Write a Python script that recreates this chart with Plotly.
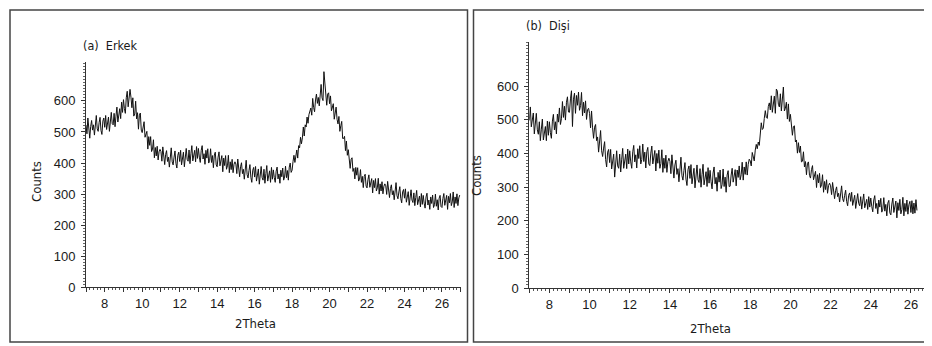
import plotly.graph_objects as go

# ---- data ----
theta_start = 7.0
theta_step = 0.05

erkek_counts = [
    522, 494, 545, 505, 480, 518, 537, 506, 523, 490, 533, 553, 510, 502, 530, 547, 505, 492, 535, 545,
    515, 553, 508, 535, 548, 502, 547, 563, 527, 523, 560, 517, 551, 580, 532, 550, 575, 543, 596, 563,
    604, 575, 560, 610, 631, 581, 601, 637, 612, 578, 610, 551, 558, 599, 542, 562, 509, 554, 561, 506,
    498, 522, 533, 483, 495, 502, 445, 485, 457, 485, 437, 445, 475, 417, 450, 423, 454, 410, 436, 444,
    437, 406, 452, 416, 395, 427, 440, 405, 419, 387, 433, 449, 404, 394, 419, 439, 399, 384, 425, 435,
    405, 441, 394, 421, 435, 388, 430, 447, 412, 406, 442, 398, 430, 456, 407, 420, 441, 404, 453, 415,
    447, 419, 402, 441, 456, 413, 430, 396, 441, 416, 446, 400, 409, 446, 402, 424, 385, 426, 435, 394,
    388, 419, 436, 391, 410, 424, 372, 416, 392, 424, 380, 391, 425, 369, 404, 379, 412, 369, 396, 404,
    397, 366, 413, 377, 356, 388, 401, 366, 380, 348, 393, 409, 363, 352, 376, 395, 354, 338, 377, 386,
    355, 389, 342, 368, 381, 332, 374, 389, 353, 345, 380, 335, 366, 392, 342, 355, 375, 338, 386, 348,
    378, 353, 338, 374, 387, 349, 365, 335, 377, 356, 384, 345, 355, 390, 353, 376, 345, 387, 400, 370,
    377, 405, 425, 402, 424, 442, 416, 456, 449, 483, 462, 481, 516, 487, 523, 516, 548, 528, 556, 571,
    577, 554, 608, 579, 565, 603, 622, 592, 611, 584, 633, 653, 610, 601, 694, 646, 605, 586, 622, 626,
    591, 616, 568, 587, 591, 541, 573, 580, 541, 526, 550, 502, 520, 534, 479, 479, 486, 440, 471, 425,
    443, 408, 383, 412, 417, 373, 383, 349, 386, 361, 385, 342, 348, 379, 338, 357, 321, 357, 364, 326,
    320, 347, 362, 322, 339, 350, 304, 344, 321, 350, 310, 320, 351, 300, 333, 310, 340, 301, 325, 333,
    327, 299, 341, 308, 289, 318, 330, 298, 311, 282, 322, 337, 295, 285, 307, 324, 286, 272, 307, 315,
    287, 317, 274, 298, 308, 264, 301, 314, 281, 273, 304, 263, 289, 312, 266, 276, 294, 259, 302, 267,
    296, 271, 255, 291, 303, 265, 281, 251, 291, 270, 297, 257, 266, 300, 261, 282, 249, 287, 296, 260,
    257, 286, 302, 264, 283, 296, 251, 293, 272, 302, 263, 275, 307, 257, 291, 270, 301, 263, 288, 297,
]

disi_counts = [
    498, 538, 479, 508, 520, 458, 504, 519, 470, 457, 494, 438, 472, 502, 440, 456, 480, 438, 496, 454,
    494, 462, 445, 496, 516, 470, 494, 458, 517, 493, 535, 486, 503, 554, 507, 540, 499, 552, 568, 523,
    522, 562, 586, 480, 561, 579, 519, 572, 543, 582, 528, 542, 581, 512, 552, 520, 556, 501, 530, 534,
    519, 476, 526, 476, 445, 478, 486, 438, 449, 404, 454, 468, 408, 391, 416, 435, 382, 360, 404, 412,
    373, 412, 354, 384, 398, 330, 388, 408, 363, 356, 398, 345, 383, 415, 356, 373, 398, 355, 413, 369,
    408, 375, 356, 405, 424, 375, 396, 357, 414, 385, 423, 369, 382, 428, 376, 404, 357, 406, 418, 369,
    364, 401, 422, 369, 392, 409, 348, 400, 371, 410, 356, 370, 411, 344, 386, 356, 395, 344, 376, 386,
    377, 340, 396, 352, 327, 366, 380, 338, 355, 316, 370, 389, 334, 321, 350, 373, 324, 305, 352, 363,
    326, 367, 310, 341, 356, 298, 347, 366, 322, 314, 355, 300, 337, 368, 307, 322, 346, 302, 358, 312,
    350, 316, 295, 342, 360, 310, 329, 288, 344, 315, 351, 296, 308, 354, 302, 330, 285, 336, 349, 302,
    303, 336, 356, 315, 336, 352, 304, 351, 329, 363, 322, 337, 374, 321, 360, 338, 375, 336, 368, 383,
    378, 363, 403, 385, 378, 410, 427, 414, 434, 424, 468, 491, 471, 475, 504, 527, 507, 504, 539, 550,
    529, 571, 522, 554, 570, 519, 591, 585, 546, 538, 577, 526, 559, 597, 526, 534, 552, 502, 547, 495,
    516, 480, 454, 480, 482, 434, 440, 401, 432, 403, 422, 375, 377, 405, 360, 376, 337, 371, 375, 335,
    327, 352, 364, 322, 337, 347, 299, 337, 313, 341, 299, 307, 337, 285, 317, 293, 322, 282, 305, 312,
    304, 278, 314, 284, 266, 290, 301, 272, 282, 256, 291, 304, 266, 257, 276, 291, 258, 245, 276, 283,
    258, 285, 246, 267, 276, 237, 270, 281, 252, 245, 272, 235, 259, 280, 239, 249, 264, 234, 272, 241,
    268, 243, 227, 262, 275, 237, 252, 221, 262, 241, 267, 226, 235, 269, 229, 249, 215, 253, 261, 224,
    218, 250, 268, 225, 244, 259, 209, 254, 231, 264, 221, 234, 270, 215, 252, 228, 262, 220, 248, 258,
    225, 260, 221, 253, 223, 263, 231,
]

x_tick_values = list(range(7, 28))
x_tick_labels = [str(v) if v % 2 == 0 else "" for v in x_tick_values]
y_tick_values = [0, 100, 200, 300, 400, 500, 600]
y_tick_labels = [str(v) for v in y_tick_values]

panel_titles = ["(a)  Erkek", "(b)  Dişi"]
x_title = "2Theta"
y_title = "Counts"

erkek_theta = [round(theta_start + theta_step * i, 3) for i in range(len(erkek_counts))]
disi_theta = [round(theta_start + theta_step * i, 3) for i in range(len(disi_counts))]

# ---- figure ----
W, H = 932, 346
def px(x):
    return x / W
def py(y):
    return 1 - y / H

LINE = "#111111"
TXT = "#1a1a1a"
FONT = "Liberation Sans, Arial, sans-serif"
NARROW = "Liberation Sans Narrow, Arial Narrow, DejaVu Sans Condensed, Liberation Sans, sans-serif"

fig = go.Figure()
fig.add_trace(go.Scatter(x=erkek_theta, y=erkek_counts, mode="lines",
                         line=dict(color=LINE, width=1), xaxis="x", yaxis="y",
                         showlegend=False, hoverinfo="skip"))
fig.add_trace(go.Scatter(x=disi_theta, y=disi_counts, mode="lines",
                         line=dict(color=LINE, width=1), xaxis="x2", yaxis="y2",
                         showlegend=False, hoverinfo="skip"))

def xaxis(domain, anchor):
    return dict(domain=domain, anchor=anchor, range=[7, 27], showgrid=False,
                zeroline=False, showline=True, linecolor="#333", linewidth=1,
                tickmode="array", tickvals=x_tick_values, ticktext=x_tick_labels,
                ticks="outside", ticklen=4, tickcolor="#333", tickwidth=1,
                minor=dict(dtick=0.2, ticks="outside", ticklen=2, tickcolor="#555",
                           showgrid=False),
                tickfont=dict(family=FONT, size=13, color=TXT))

def yaxis(domain, anchor, top):
    return dict(domain=domain, anchor=anchor, range=[0, top], showgrid=False,
                zeroline=False, showline=True, linecolor="#333", linewidth=1,
                tickmode="array", tickvals=y_tick_values, ticktext=y_tick_labels,
                ticks="outside", ticklen=4, tickcolor="#333", tickwidth=1,
                ticklabelstandoff=3,
                minor=dict(dtick=10, ticks="outside", ticklen=2, tickcolor="#666",
                           showgrid=False),
                tickfont=dict(family=FONT, size=13, color=TXT))

fig.update_layout(
    width=W, height=H, margin=dict(l=0, r=0, t=0, b=0),
    paper_bgcolor="white", plot_bgcolor="white",
    xaxis=xaxis([px(78), px(452.7)], "y"),
    yaxis=yaxis([py(286), py(55)], "x", 726),
    xaxis2=xaxis([px(521.3), px(923)], "y2"),
    yaxis2=yaxis([py(287), py(35)], "x2", 730),
)

# panel borders
for x0, x1 in [(2, 459.5), (465.5, 930)]:
    fig.add_shape(type="rect", xref="paper", yref="paper",
                  x0=px(x0), x1=px(x1), y0=py(342), y1=py(2),
                  line=dict(color="#444", width=1.5), fillcolor="rgba(0,0,0,0)")

ann = [
    (panel_titles[0], 73, 38, 0, "left", 12.5),
    (panel_titles[1], 516, 18, 0, "left", 12.5),
    (x_title, 247, 323, 0, "center", 13),
    (x_title, 702, 328, 0, "center", 13),
    (y_title, 29, 178, -90, "center", 13),
    (y_title, 468, 172, -90, "center", 13),
]
for text, x, y, ang, xa, size in ann:
    fig.add_annotation(text=text, xref="paper", yref="paper", x=px(x), y=py(y),
                       xanchor=xa, yanchor="middle", showarrow=False, textangle=ang,
                       font=dict(family=NARROW, size=size, color=TXT))

fig.write_html("out.html")
